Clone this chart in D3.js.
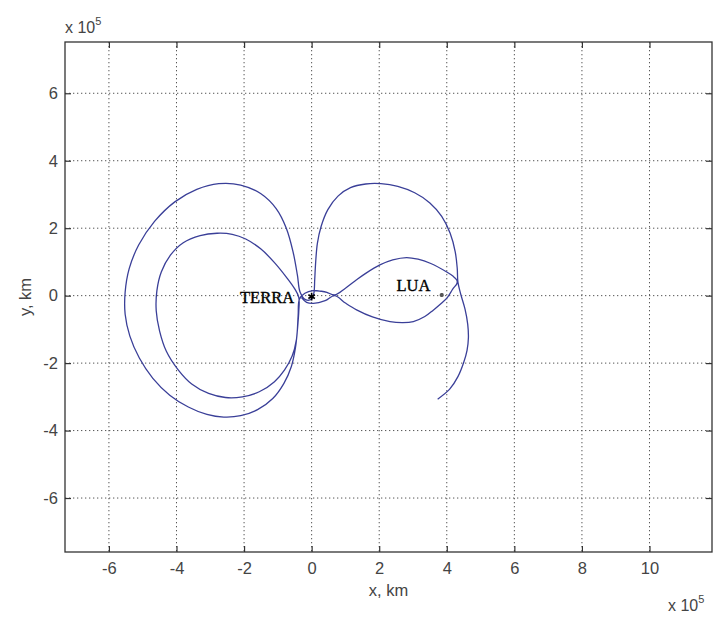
<!DOCTYPE html>
<html>
<head>
<meta charset="utf-8">
<script src="https://cdn.jsdelivr.net/npm/d3@7"></script>
<style>
html,body{margin:0;padding:0;background:#fff;}
svg{display:block;}
</style>
</head>
<body>
<svg id="chart" width="713" height="621"></svg>
<script>
// ---- data (units of 10^5 km) ----
const xTicks = [-6, -4, -2, 0, 2, 4, 6, 8, 10];
const yTicks = [-6, -4, -2, 0, 2, 4, 6];
const xDomain = [-7.30, 11.85];
const yDomain = [-7.60, 7.52];
const xLabel = "x, km";
const yLabel = "y, km";
const expText = "x 10";
const expSup = "5";

// trajectory, in drawing order
const trajX = [
 // small loop (lower) + lower branch of figure-8 to the Moon and back on the upper branch
 -0.30,-0.15,0.05,0.40,0.68,1.00,1.33,1.80,2.32,2.70,3.01,3.35,3.60,3.85,4.02,4.18,4.30,4.30,4.18,4.00,3.51,3.15,2.81,2.40,2.02,1.60,1.33,1.00,0.68,0.45,0.29,0.04,-0.20,-0.36,
 // inner left loop
 -0.40,-0.45,-0.58,-0.80,-1.10,-1.55,-2.05,-2.55,-3.05,-3.55,-3.95,-4.30,-4.50,-4.60,-4.58,-4.45,-4.18,-3.80,-3.30,-2.80,-2.35,-1.95,-1.50,-1.10,-0.75,-0.50,-0.38,
 // outer left loop
 -0.38,-0.42,-0.48,-0.60,-0.82,-1.15,-1.60,-2.10,-2.60,-3.10,-3.65,-4.20,-4.70,-5.10,-5.38,-5.52,-5.52,-5.40,-5.12,-4.65,-4.05,-3.40,-2.75,-2.10,-1.50,-1.05,-0.75,-0.55,-0.42,-0.34,
 // upper right loop and final arc
 -0.18,0.00,0.07,0.09,0.12,0.17,0.28,0.48,0.78,1.15,1.60,2.05,2.55,3.05,3.50,3.85,4.10,4.25,4.31,4.33,4.42,4.54,4.62,4.64,4.60,4.50,4.33,4.08,3.73
];
const trajY = [
 -0.06,-0.20,-0.23,-0.15,0.00,-0.22,-0.42,-0.63,-0.77,-0.80,-0.77,-0.62,-0.43,-0.22,-0.05,0.20,0.36,0.46,0.58,0.70,0.96,1.08,1.13,1.06,0.91,0.66,0.47,0.22,0.02,0.10,0.13,0.15,0.07,-0.10,
 -0.60,-1.30,-1.80,-2.20,-2.55,-2.85,-3.00,-3.02,-2.90,-2.62,-2.20,-1.65,-1.05,-0.45,0.15,0.70,1.20,1.57,1.78,1.85,1.82,1.68,1.38,0.98,0.55,0.20,-0.05,
 -0.45,-1.00,-1.55,-2.10,-2.60,-3.05,-3.38,-3.56,-3.60,-3.52,-3.30,-2.95,-2.45,-1.85,-1.20,-0.55,0.10,0.80,1.50,2.20,2.78,3.15,3.32,3.28,3.02,2.58,2.00,1.30,0.60,0.10,
 -0.12,-0.10,0.10,0.45,1.00,1.55,2.05,2.55,2.95,3.20,3.31,3.32,3.24,3.05,2.75,2.35,1.85,1.30,0.80,0.40,0.02,-0.40,-0.85,-1.25,-1.62,-1.98,-2.40,-2.78,-3.07
];

const bodyNames = ["TERRA", "LUA"];
const bodyX = [0.0, 3.85];
const bodyY = [-0.03, 0.02];
const labelX = [-2.12, 2.51];
const labelY = [-0.21, 0.13];

// ---- layout ----
const svg = d3.select("#chart");
const L = 65, R = 712, T = 42, B = 552;
const x = d3.scaleLinear().domain(xDomain).range([L, R]);
const y = d3.scaleLinear().domain(yDomain).range([B, T]);

const tickFont = "Liberation Sans, Arial, sans-serif";
const tickColor = "#444";
const fmt = d => String(d);

// grid
const grid = svg.append("g").attr("stroke", "#555").attr("stroke-width", 1)
  .attr("stroke-dasharray", "1.3,2.7");
grid.selectAll("line.gx").data(xTicks).join("line")
  .attr("x1", d => x(d)).attr("x2", d => x(d)).attr("y1", T).attr("y2", B);
grid.selectAll("line.gy").data(yTicks).join("line")
  .attr("y1", d => y(d)).attr("y2", d => y(d)).attr("x1", L).attr("x2", R);

// axes (ticks inside on all four sides)
function styleAxis(g) {
  g.select(".domain").remove();
  g.selectAll(".tick line").attr("stroke", "#333").attr("stroke-width", 1.2);
  g.selectAll(".tick text").attr("fill", tickColor).style("font-family", tickFont).style("font-size", "16.5px");
}
svg.append("g").attr("transform", `translate(0,${B})`)
  .call(d3.axisBottom(x).tickValues(xTicks).tickSize(-6).tickPadding(10).tickFormat(fmt))
  .call(styleAxis);
svg.append("g").attr("transform", `translate(0,${T})`)
  .call(d3.axisTop(x).tickValues(xTicks).tickSize(-6).tickFormat(""))
  .call(styleAxis);
svg.append("g").attr("transform", `translate(${L},0)`)
  .call(d3.axisLeft(y).tickValues(yTicks).tickSize(-6).tickPadding(7).tickFormat(fmt))
  .call(styleAxis);
svg.append("g").attr("transform", `translate(${R},0)`)
  .call(d3.axisRight(y).tickValues(yTicks).tickSize(-6).tickFormat(""))
  .call(styleAxis);

// frame
svg.append("rect").attr("x", L).attr("y", T).attr("width", R - L).attr("height", B - T)
  .attr("fill", "none").attr("stroke", "#333").attr("stroke-width", 1.3);

// trajectory
const pts = trajX.map((v, i) => [v, trajY[i]]);
svg.append("path").datum(pts)
  .attr("d", d3.line().x(d => x(d[0])).y(d => y(d[1])).curve(d3.curveCatmullRom.alpha(0.5)))
  .attr("fill", "none").attr("stroke", "#3a3f98").attr("stroke-width", 1.3);

// bodies
const astType = d3.symbolAsterisk || d3.symbolCross;
svg.selectAll("path.body").data(bodyX).join("path")
  .attr("class", "body")
  .attr("transform", (d, i) => `translate(${x(d)},${y(bodyY[i])})`)
  .attr("d", (d, i) => d3.symbol().type(astType).size(i === 0 ? 40 : 12)())
  .attr("fill", "none").attr("stroke", (d, i) => i === 0 ? "#000" : "#555").attr("stroke-width", 1.6);
svg.selectAll("text.body").data(bodyNames).join("text")
  .attr("class", "body")
  .attr("x", (d, i) => x(labelX[i])).attr("y", (d, i) => y(labelY[i]))
  .style("font-family", "Liberation Serif, Times New Roman, serif")
  .style("font-size", "16.5px").attr("fill", "#000").attr("stroke", "#000").attr("stroke-width", 0.35)
  .text(d => d);

// axis labels
svg.append("text").attr("x", (L + R) / 2).attr("y", 596).attr("text-anchor", "middle")
  .style("font-family", tickFont).style("font-size", "16.5px").attr("fill", tickColor).text(xLabel);
svg.append("text").attr("transform", `translate(31,${(T + B) / 2}) rotate(-90)`).attr("text-anchor", "middle")
  .style("font-family", tickFont).style("font-size", "16.5px").attr("fill", tickColor).text(yLabel);

// exponent labels
function expo(x0, yb) {
  const t = svg.append("text").attr("x", x0).attr("y", yb)
    .style("font-family", tickFont).style("font-size", "16px").attr("fill", tickColor);
  t.append("tspan").text(expText);
  t.append("tspan").attr("dy", -8).style("font-size", "11px").text(expSup);
}
expo(65, 33);
expo(668, 611);
</script>
</body>
</html>
